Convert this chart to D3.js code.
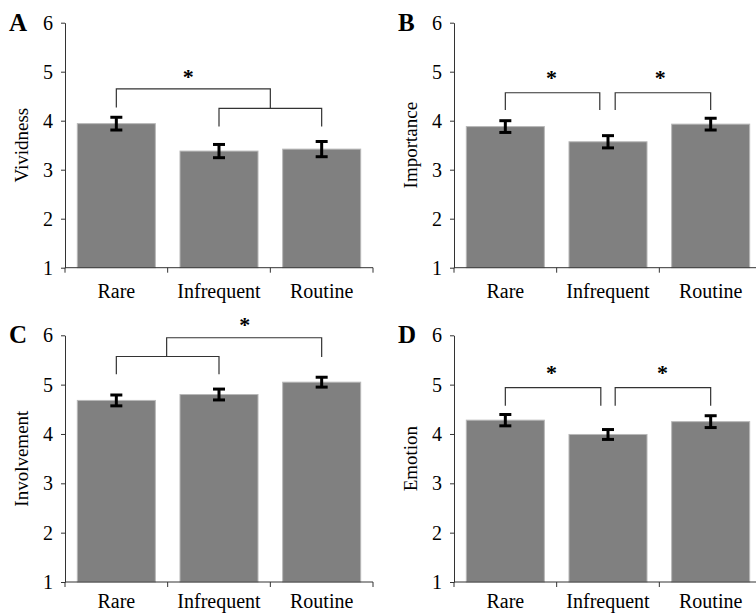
<!DOCTYPE html>
<html>
<head>
<meta charset="utf-8">
<script src="https://cdn.jsdelivr.net/npm/d3@7"></script>
<style>
  body { margin: 0; background: #fff; }
  text { font-family: "Liberation Serif", "Times New Roman", serif; fill: #000; }
</style>
</head>
<body>
<svg id="chart" width="756" height="614"></svg>
<script>
// categories and tick values
var categories = ["Rare", "Infrequent", "Routine"];
var yTicks = [1, 2, 3, 4, 5, 6];

// means and error bars per measure
var vividness = [3.94, 3.38, 3.42];
var vividnessErr = [0.13, 0.135, 0.155];
var importance = [3.88, 3.57, 3.93];
var importanceErr = [0.12, 0.125, 0.12];
var involvement = [4.68, 4.80, 5.05];
var involvementErr = [0.11, 0.11, 0.10];
var emotion = [4.28, 3.99, 4.25];
var emotionErr = [0.115, 0.10, 0.12];

// significance brackets (positions in category units, heights in scale units)
var bracketsA = [
  {from: 1, to: 2, level: 4.25, legFrom: 3.88, legTo: 3.88},
  {from: 0, to: 1.5, level: 4.65, legFrom: 4.27, legTo: 4.25}
];
var starsA = [{at: 0.70, value: 4.95}];

var bracketsB = [
  {from: 0, to: 0.92, level: 4.57, legFrom: 4.22, legTo: 4.22},
  {from: 1.07, to: 2, level: 4.57, legFrom: 4.22, legTo: 4.22}
];
var starsB = [{at: 0.45, value: 4.93}, {at: 1.51, value: 4.93}];

var bracketsC = [
  {from: 0, to: 1, level: 5.57, legFrom: 5.21, legTo: 5.21},
  {from: 0.49, to: 2, level: 5.95, legFrom: 5.57, legTo: 5.56}
];
var starsC = [{at: 1.25, value: 6.27}];

var bracketsD = [
  {from: 0, to: 0.93, level: 4.94, legFrom: 4.57, legTo: 4.57},
  {from: 1.07, to: 2, level: 4.94, legFrom: 4.57, legTo: 4.57}
];
var starsD = [{at: 0.45, value: 5.29}, {at: 1.53, value: 5.29}];

var svg = d3.select("#chart");

// layout of the four panels
var panels = [
  {letter: "A", label: "Vividness", values: vividness, errs: vividnessErr,
   brackets: bracketsA, stars: starsA, left: 65, top: 22.7, bottom: 267.7},
  {letter: "B", label: "Importance", values: importance, errs: importanceErr,
   brackets: bracketsB, stars: starsB, left: 454, top: 22.7, bottom: 267.7},
  {letter: "C", label: "Involvement", values: involvement, errs: involvementErr,
   brackets: bracketsC, stars: starsC, left: 65, top: 335.3, bottom: 582},
  {letter: "D", label: "Emotion", values: emotion, errs: emotionErr,
   brackets: bracketsD, stars: starsD, left: 454, top: 335.3, bottom: 582}
];

var axisColor = "#333";

panels.forEach(function(p) {
  drawPanel(p);
});

function drawPanel(p) {
  var g = svg.append("g");

  var x = d3.scaleBand()
      .domain(categories)
      .range([p.left, p.left + 308])
      .paddingInner(0.24)
      .paddingOuter(0.12);

  var y = d3.scaleLinear()
      .domain([1, 6])
      .range([p.bottom, p.top]);

  // centre of a (fractional) category position
  function cx(pos) {
    var i = Math.floor(pos);
    return x(categories[i]) + x.bandwidth() / 2 + (pos - i) * x.step();
  }

  // bars
  g.selectAll(".bar")
    .data(p.values)
    .enter().append("rect")
      .attr("class", "bar")
      .attr("x", function(d, i) { return x(categories[i]); })
      .attr("width", x.bandwidth())
      .attr("y", function(d) { return y(d); })
      .attr("height", function(d) { return y(1) - y(d); })
      .style("fill", "#808080")
      .style("stroke", "#b8b8b8")
      .style("stroke-width", 1);

  // error bars
  var eb = g.selectAll(".err")
    .data(p.values)
    .enter().append("g")
      .attr("class", "err")
      .style("stroke", "#000")
      .style("stroke-width", 3);

  eb.append("line")
      .attr("x1", function(d, i) { return cx(i); })
      .attr("x2", function(d, i) { return cx(i); })
      .attr("y1", function(d, i) { return y(d + p.errs[i]); })
      .attr("y2", function(d, i) { return y(d - p.errs[i]); });
  eb.append("line")
      .attr("x1", function(d, i) { return cx(i) - 6; })
      .attr("x2", function(d, i) { return cx(i) + 6; })
      .attr("y1", function(d, i) { return y(d + p.errs[i]); })
      .attr("y2", function(d, i) { return y(d + p.errs[i]); });
  eb.append("line")
      .attr("x1", function(d, i) { return cx(i) - 6; })
      .attr("x2", function(d, i) { return cx(i) + 6; })
      .attr("y1", function(d, i) { return y(d - p.errs[i]); })
      .attr("y2", function(d, i) { return y(d - p.errs[i]); });

  // y axis
  var gy = g.append("g")
      .attr("transform", "translate(" + p.left + ",0)")
      .call(d3.axisLeft(y).tickValues(yTicks).tickFormat(d3.format("d"))
        .tickSize(4).tickSizeOuter(0).tickPadding(8));
  gy.select(".domain").attr("stroke", axisColor);
  gy.selectAll(".tick line").attr("stroke", axisColor);
  gy.selectAll(".tick text")
      .style("font-size", "20px")
      .attr("fill", "#000");

  // x axis line with ticks at the category boundaries
  var bounds = categories.map(function(c) {
    return x(c) - x.paddingInner() * x.step() / 2;
  });
  bounds.push(x(categories[categories.length - 1]) + x.bandwidth() + x.paddingInner() * x.step() / 2);

  g.append("line")
      .attr("x1", p.left)
      .attr("x2", bounds[bounds.length - 1])
      .attr("y1", y(1))
      .attr("y2", y(1))
      .style("stroke", axisColor);

  g.selectAll(".xtick")
    .data(bounds)
    .enter().append("line")
      .attr("x1", function(d) { return d; })
      .attr("x2", function(d) { return d; })
      .attr("y1", y(1))
      .attr("y2", y(1) + 5)
      .style("stroke", axisColor);

  // keep the bottom row's labels inside the picture
  var labelY = Math.min(y(1) + 30, 608);
  g.selectAll(".xlabel")
    .data(categories)
    .enter().append("text")
      .attr("x", function(d, i) { return cx(i); })
      .attr("y", labelY)
      .attr("text-anchor", "middle")
      .style("font-size", "20px")
      .text(function(d) { return d; });

  // y label
  g.append("text")
      .attr("transform", "translate(" + (p.left - 37) + "," + ((p.top + p.bottom) / 2) + ") rotate(-90)")
      .attr("text-anchor", "middle")
      .style("font-size", "19px")
      .text(p.label);

  // panel letter
  g.append("text")
      .attr("x", p.left - 56)
      .attr("y", p.top + 8)
      .style("font-size", "25px")
      .style("font-weight", "bold")
      .text(p.letter);

  // significance brackets
  p.brackets.forEach(function(b) {
    var x1 = cx(b.from), x2 = cx(b.to);
    g.append("path")
        .attr("d", "M" + x1 + "," + y(b.legFrom) + "V" + y(b.level) +
                   "H" + x2 + "V" + y(b.legTo))
        .style("fill", "none")
        .style("stroke", axisColor)
        .style("stroke-width", 1.2);
  });

  g.selectAll(".star")
    .data(p.stars)
    .enter().append("text")
      .attr("x", function(d) { return cx(d.at); })
      .attr("y", function(d) { return y(d.value) + 10; })
      .attr("text-anchor", "middle")
      .style("font-size", "22px")
      .style("font-weight", "bold")
      .text("*");
}
</script>
</body>
</html>
